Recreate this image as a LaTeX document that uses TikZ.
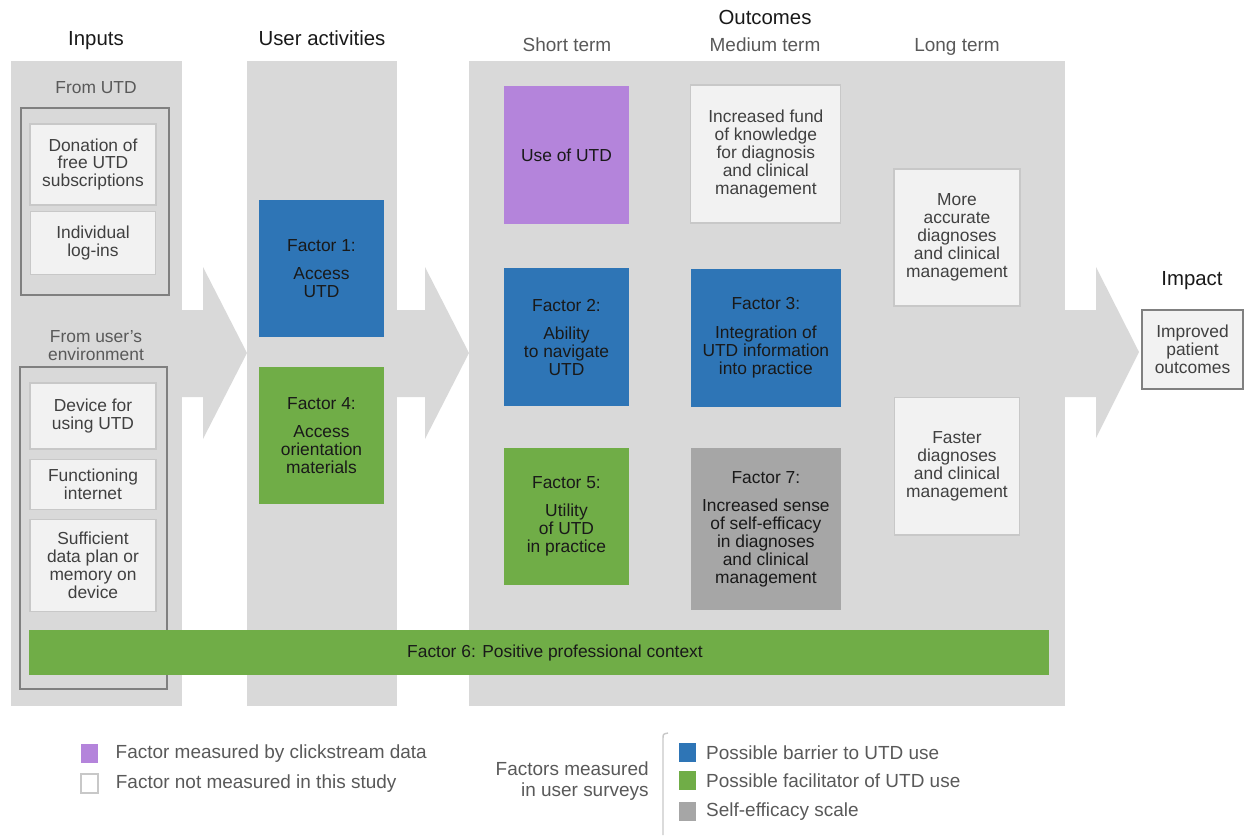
\documentclass[tikz,border=0pt]{standalone}
\usepackage{fontspec}
\setmainfont{Liberation Sans}
\usetikzlibrary{positioning}

\definecolor{panelgray}{RGB}{217,217,217}
\definecolor{boxfill}{RGB}{242,242,242}
\definecolor{boxline}{RGB}{200,200,200}
\definecolor{framegray}{RGB}{128,128,128}
\definecolor{textgray}{RGB}{64,64,64}
\definecolor{labelgray}{RGB}{89,89,89}
\definecolor{barrierblue}{RGB}{46,117,182}
\definecolor{facilgreen}{RGB}{112,173,71}
\definecolor{clickpurple}{RGB}{180,132,219}
\definecolor{efficacygray}{RGB}{166,166,166}

\begin{document}
\begin{tikzpicture}[x=0.02cm, y=-0.02cm,
    panel/.style={fill=panelgray},
    groupframe/.style={draw=framegray, line width=0.85pt},
    plainbox/.style={draw=boxline, line width=0.6pt, fill=boxfill, text=textgray, align=center, inner sep=0pt, font=\fontsize{9.9}{10.2}\selectfont},
    factor/.style={align=center, inner sep=0pt, text=black!90, font=\fontsize{9.9}{10.2}\selectfont},
    narrowbox/.style={minimum width=2.5cm, minimum height=2.75cm},
    widebox/.style={minimum width=3cm, minimum height=2.76cm},
    header/.style={anchor=base, text=black!90, font=\fontsize{11.6}{13}\selectfont},
    term/.style={text=labelgray, font=\fontsize{10.8}{12}\selectfont},
    swatch/.style={minimum width=0.34cm, minimum height=0.38cm, inner sep=0pt},
    keytext/.style={text=labelgray, font=\fontsize{10.8}{12}\selectfont, inner sep=0pt, anchor=west}]

    \useasboundingbox (0,0) rectangle (1244,835);

    % Column panels and the arrows between them
    \fill[panel] (11,61) rectangle (182,706);
    \fill[panel] (247,61) rectangle (397,706);
    \fill[panel] (469,61) rectangle (1065,706);
    \fill[panel] (182,310) -- (203,310) -- (203,267) -- (247,353) -- (203,439) -- (203,397) -- (182,397) -- cycle;
    \fill[panel] (397,310) -- (425,310) -- (425,267) -- (469,353) -- (425,439) -- (425,397) -- (397,397) -- cycle;
    \fill[panel] (1065,310) -- (1096,310) -- (1096,267) -- (1139,352) -- (1096,438) -- (1096,397) -- (1065,397) -- cycle;

    % Titles
    \node[header] (inputs) at (96,45.3) {Inputs};
    \node[header] (activities) at (322,45.3) {User activities};
    \node[header] (outcomes) at (765,24.3) {Outcomes};
    \node[term, anchor=base] (short) at (567,51.8) {Short term};
    \node[term, anchor=base] (medium) at (765,51.8) {Medium term};
    \node[term, anchor=base] (long) at (957,51.8) {Long term};
    \node[header] (impact) at (1192,285.3) {Impact};

    % Inputs
    \node[term, font=\fontsize{9.9}{10.2}\selectfont] (fromutd) at (96,88) {From UTD};
    \draw[groupframe] (21,108) rectangle (169,295);
    \node[plainbox, minimum width=2.52cm, minimum height=1.62cm] (donation) at (93,164.5) {Donation of\\free UTD\\subscriptions};
    \node[plainbox, minimum width=2.5cm, minimum height=1.26cm, below=0.1cm of donation] (logins) {Individual\\log-ins};
    \node[term, align=center, font=\fontsize{9.9}{10.2}\selectfont] (fromuser) at (96,346) {From user's\\environment};
    \draw[groupframe] (20,367) rectangle (167,689);
    \node[plainbox, minimum width=2.52cm, minimum height=1.32cm] (device) at (93,416) {Device for\\using UTD};
    \node[plainbox, minimum width=2.52cm, minimum height=1cm, below=0.18cm of device] (internet) {Functioning\\internet};
    \node[plainbox, minimum width=2.52cm, minimum height=1.84cm, below=0.18cm of internet] (dataplan) {Sufficient\\data plan or\\memory on\\device};

    % User activities
    \node[factor, narrowbox, fill=barrierblue] (factor1) at (321.5,268.5) {Factor 1:\\[6pt]Access\\UTD};
    \node[factor, narrowbox, fill=facilgreen, below=0.58cm of factor1] (factor4) {Factor 4:\\[6pt]Access\\orientation\\materials};

    % Outcomes
    \node[factor, narrowbox, fill=clickpurple] (useutd) at (566.5,155) {Use of UTD};
    \node[factor, narrowbox, fill=barrierblue, below=0.88cm of useutd] (factor2) {Factor 2:\\[6pt]Ability\\to navigate\\UTD};
    \node[factor, narrowbox, fill=facilgreen, below=0.82cm of factor2] (factor5) {Factor 5:\\[6pt]Utility\\of UTD\\in practice};
    \node[plainbox, widebox, right=1.22cm of useutd, yshift=0.02cm] (fund) {Increased fund\\of knowledge\\for diagnosis\\and clinical\\management};
    \node[factor, widebox, fill=barrierblue, below=0.9cm of fund] (factor3) {Factor 3:\\[6pt]Integration of\\UTD information\\into practice};
    \node[factor, widebox, minimum height=3.26cm, fill=efficacygray, below=0.8cm of factor3] (factor7) {Factor 7:\\[6pt]Increased sense\\of self-efficacy\\in diagnoses\\and clinical\\management};
    \node[plainbox, minimum width=2.52cm, minimum height=2.74cm] (accurate) at (957,237.5) {More\\accurate\\diagnoses\\and clinical\\management};
    \node[plainbox, minimum width=2.5cm, minimum height=2.76cm, below=1.8cm of accurate] (faster) {Faster\\diagnoses\\and clinical\\management};

    % Impact
    \node[plainbox, draw=framegray, line width=0.85pt, minimum width=2.02cm, minimum height=1.58cm] (improved) at (1192.5,349.5) {Improved\\patient\\outcomes};

    % Context bar across all columns
    \node[factor, fill=facilgreen, minimum width=20.4cm, minimum height=0.9cm] (factor6) at (539,652.5) {\hspace*{0.64cm}Factor 6: Positive professional context};

    % Legend
    \node[swatch, fill=clickpurple] (keyclick) at (89.5,753.5) {};
    \node[keytext, right=0.34cm of keyclick] (keyclicktext) {Factor measured by clickstream data};
    \node[swatch, draw=boxline, line width=0.6pt, fill=white] (keynone) at (89.5,783.5) {};
    \node[keytext, right=0.34cm of keynone] (keynonetext) {Factor not measured in this study};
    \node[keytext, align=right, anchor=east] (surveys) at (649,781) {Factors measured\\in user surveys};
    \draw[draw=boxline, line width=0.8pt] (663,835) -- (663,739) .. controls (663,734) .. (668,733);
    \node[swatch, fill=barrierblue] (keyblue) at (687,752.5) {};
    \node[keytext, right=0.2cm of keyblue] (keybluetext) {Possible barrier to UTD use};
    \node[swatch, fill=facilgreen] (keygreen) at (687,780.5) {};
    \node[keytext, right=0.2cm of keygreen] (keygreentext) {Possible facilitator of UTD use};
    \node[swatch, fill=efficacygray] (keygray) at (687,811.5) {};
    \node[keytext, right=0.2cm of keygray] (keygraytext) {Self-efficacy scale};
\end{tikzpicture}
\end{document}
